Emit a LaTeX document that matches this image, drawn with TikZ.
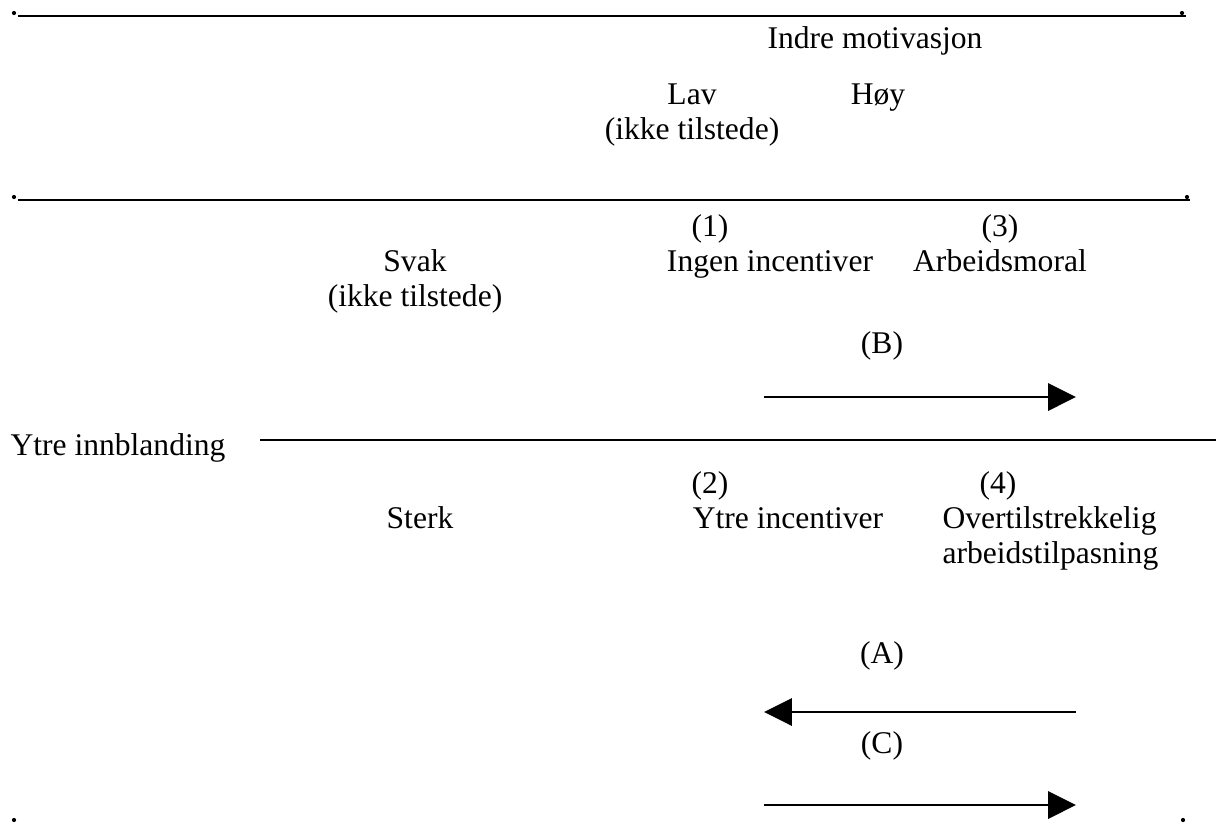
\documentclass[tikz,border=0pt]{standalone}
\usepackage{fontspec}
\setmainfont{Liberation Serif}
\usetikzlibrary{arrows.meta}

\newcommand*{\xLeft}{18}
\newcommand*{\colLav}{692}
\newcommand*{\colHoy}{878}
\newcommand*{\colArrL}{764}
\newcommand*{\colArrR}{1076}

\tikzset{
	txt/.style={inner sep=0pt, anchor=base, font=\fontsize{12}{13.8}\selectfont},
	prikk/.style={circle, fill, inner sep=0pt, minimum size=1.6pt},
	rule/.style={line width=0.75pt},
	pil/.style={line width=1.1pt, -{Triangle[length=10.6pt,width=10.3pt]}}
}

\begin{document}
\begin{tikzpicture}[x=0.38pt,y=-0.38pt]
	\useasboundingbox (0,0) rectangle (1216,823);

	% horisontale linjer
	\node [prikk] (d1) at (14,13) {};
	\node [prikk] (d2) at (1182,13) {};
	\coordinate (t1) at (\xLeft,16);
	\coordinate (t2) at (1186,16);
	\draw [rule] (t1) -- (t2);

	\node [prikk] (d3) at (14,197) {};
	\node [prikk] (d4) at (1187,197) {};
	\coordinate (m1) at (\xLeft,200);
	\coordinate (m2) at (1190,200);
	\draw [rule] (m1) -- (m2);

	\node [prikk] (d5) at (14,820) {};
	\node [prikk] (d6) at (1183,820) {};

	% hode
	\node [txt] (indre) at (875,48) {Indre motivasjon};
	\node [txt] (lav) at (\colLav,104) {Lav};
	\node [txt] (lav2) at (\colLav,139) {(ikke tilstede)};
	\node [txt] (hoy) at (\colHoy,104) {Høy};

	% rad svak
	\node [txt] (n1) at (710,236) {(1)};
	\node [txt] (ingen) at (770,271) {Ingen incentiver};
	\node [txt] (svak) at (415,271) {Svak};
	\node [txt] (svak2) at (415,306) {(ikke tilstede)};
	\node [txt] (n3) at (1000,236) {(3)};
	\node [txt] (moral) at (1000,271) {Arbeidsmoral};
	\node [txt] (lB) at (882,353) {(B)};
	\coordinate (b1) at (\colArrL,397);
	\coordinate (b2) at (\colArrR,397);
	\draw [pil] (b1) -- (b2);

	% midtlinje
	\node [txt, anchor=base west] (ytre) at (10,455) {Ytre innblanding};
	\coordinate (y1) at (260,440);
	\coordinate (y2) at (1216,440);
	\draw [rule] (y1) -- (y2);

	% rad sterk
	\node [txt] (n2) at (710,493) {(2)};
	\node [txt] (ytreinc) at (788,528) {Ytre incentiver};
	\node [txt] (sterk) at (420,528) {Sterk};
	\node [txt] (n4) at (998,493) {(4)};
	\node [txt, anchor=base west] (over) at (942,528) {Overtilstrekkelig};
	\node [txt, anchor=base west] (over2) at (942,563) {arbeidstilpasning};

	\node [txt] (lA) at (882,663) {(A)};
	\coordinate (a1) at (\colArrR,712);
	\coordinate (a2) at (\colArrL,712);
	\draw [pil] (a1) -- (a2);

	\node [txt] (lC) at (882,753) {(C)};
	\coordinate (c1) at (\colArrL,805);
	\coordinate (c2) at (\colArrR,805);
	\draw [pil] (c1) -- (c2);

\end{tikzpicture}
\end{document}
